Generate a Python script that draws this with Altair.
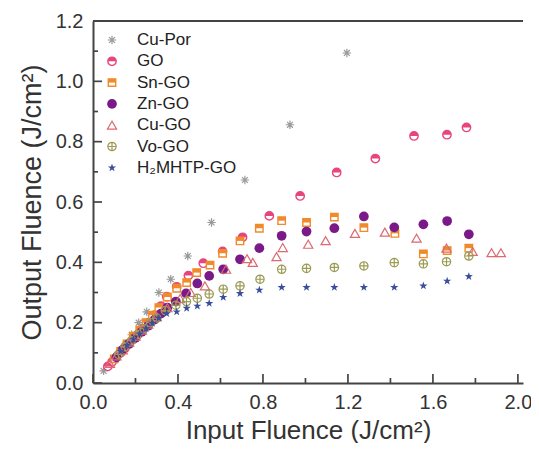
import altair as alt
import pandas as pd

# ---------------- data ----------------
series_names = ["Cu-Por", "GO", "Sn-GO", "Zn-GO", "Cu-GO", "Vo-GO", "H\u2082MHTP-GO"]

cupor_x = [0.05, 0.07, 0.09, 0.11, 0.13, 0.155, 0.182, 0.215, 0.253, 0.31, 0.366, 0.446, 0.558, 0.715, 0.927, 1.195]
cupor_y = [0.04, 0.055, 0.072, 0.09, 0.107, 0.13, 0.16, 0.2, 0.236, 0.30, 0.344, 0.421, 0.532, 0.673, 0.856, 1.094]

go_x = [0.07, 0.09, 0.11, 0.13, 0.15, 0.17, 0.19, 0.21, 0.235, 0.26, 0.29, 0.32, 0.347, 0.394, 0.449, 0.519,
        0.61, 0.704, 0.83, 0.975, 1.147, 1.329, 1.511, 1.666, 1.758]
go_y = [0.055, 0.07, 0.085, 0.1, 0.115, 0.13, 0.145, 0.16, 0.18, 0.2, 0.225, 0.255, 0.286, 0.319, 0.356, 0.397,
        0.436, 0.483, 0.554, 0.620, 0.698, 0.744, 0.819, 0.823, 0.847]

sn_x = [0.10, 0.13, 0.16, 0.19, 0.22, 0.25, 0.28, 0.31, 0.35, 0.394, 0.441, 0.488, 0.551, 0.61, 0.692, 0.783,
        0.888, 1.005, 1.136, 1.275, 1.421, 1.555, 1.667, 1.769]
sn_y = [0.08, 0.105, 0.13, 0.155, 0.175, 0.2, 0.225, 0.25, 0.285, 0.314, 0.333, 0.366, 0.391, 0.43, 0.471, 0.513,
        0.538, 0.532, 0.55, 0.515, 0.496, 0.428, 0.439, 0.447]

zn_x = [0.11, 0.14, 0.17, 0.2, 0.23, 0.26, 0.29, 0.32, 0.35, 0.39, 0.438, 0.491, 0.547, 0.613, 0.692, 0.783,
        0.888, 1.005, 1.136, 1.275, 1.418, 1.555, 1.667, 1.769]
zn_y = [0.085, 0.11, 0.13, 0.15, 0.17, 0.19, 0.21, 0.23, 0.25, 0.27, 0.297, 0.33, 0.355, 0.377, 0.41, 0.447,
        0.488, 0.502, 0.513, 0.552, 0.516, 0.526, 0.537, 0.493]

cu_x = [0.08, 0.11, 0.14, 0.17, 0.2, 0.23, 0.26, 0.3, 0.35, 0.41, 0.46, 0.527, 0.626, 0.725, 0.752, 0.864,
        0.893, 1.013, 1.095, 1.233, 1.374, 1.523, 1.664, 1.787, 1.876, 1.92]
cu_y = [0.065, 0.09, 0.11, 0.135, 0.155, 0.175, 0.195, 0.22, 0.25, 0.28, 0.3, 0.322, 0.377, 0.412, 0.400, 0.419,
        0.449, 0.46, 0.472, 0.496, 0.5, 0.48, 0.447, 0.436, 0.432, 0.432]

vo_x = [0.12, 0.15, 0.18, 0.21, 0.24, 0.27, 0.3, 0.34, 0.39, 0.44, 0.491, 0.547, 0.613, 0.692, 0.786, 0.888,
        1.005, 1.136, 1.275, 1.418, 1.555, 1.664, 1.769]
vo_y = [0.095, 0.12, 0.14, 0.16, 0.18, 0.2, 0.215, 0.24, 0.258, 0.27, 0.281, 0.295, 0.311, 0.322, 0.344, 0.377,
        0.38, 0.383, 0.388, 0.399, 0.395, 0.402, 0.421]

h2_x = [0.13, 0.16, 0.19, 0.22, 0.25, 0.28, 0.31, 0.347, 0.394, 0.441, 0.491, 0.547, 0.613, 0.692, 0.783, 0.888,
        1.005, 1.136, 1.275, 1.418, 1.555, 1.667, 1.769]
h2_y = [0.105, 0.125, 0.145, 0.163, 0.18, 0.198, 0.215, 0.23, 0.236, 0.248, 0.255, 0.264, 0.284, 0.297, 0.308, 0.317,
        0.317, 0.317, 0.317, 0.317, 0.322, 0.338, 0.353]

x_major = [0.0, 0.4, 0.8, 1.2, 1.6, 2.0]
x_minor = [0.2, 0.6, 1.0, 1.4, 1.8]
y_major = [0.0, 0.2, 0.4, 0.6, 0.8, 1.0, 1.2]
y_minor = [0.1, 0.3, 0.5, 0.7, 0.9, 1.1]

# ---------------- styling ----------------
W, H = 430, 362
FONT = "Liberation Sans"
X_DOMAIN = [0, 2.024]
Y_DOMAIN = [0, 1.2]

ASTERISK = "M-1,0L1,0M0,-1L0,1M-0.7,-0.7L0.7,0.7M-0.7,0.7L0.7,-0.7"
STAR = ("M0,-1L0.235,-0.324L0.951,-0.309L0.380,0.124L0.588,0.809L0,0.4L-0.588,0.809"
        "L-0.380,0.124L-0.951,-0.309L-0.235,-0.324Z")
CIRCLE_PLUS = "M-1,0A1,1 0 1,0 1,0A1,1 0 1,0 -1,0ZM-1,0L1,0M0,-1L0,1"
HALF_DISK_TOP = "M-1,0A1,1 0 0,1 1,0Z"
HALF_SQUARE_TOP = "M-1,-1L1,-1L1,0L-1,0Z"
TICK_UP = "M0,0L0,-2"
TICK_RIGHT = "M0,0L2,0"
TOP_LINE = f"M0,0L{W/100:.3f},0"

C_GRAY = "#9a9a9a"
C_PINK = "#e8457f"
C_ORANGE = "#f08a2a"
C_PURPLE = "#7a1a88"
C_ROSE = "#dc6a72"
C_OLIVE = "#9c9c55"
C_BLUE = "#3a4e9c"
C_AX = "#444444"

xscale = alt.Scale(domain=X_DOMAIN, nice=False, zero=False)
yscale = alt.Scale(domain=Y_DOMAIN, nice=False, zero=False)
xaxis = alt.Axis(values=x_major, format=".1f", ticks=False, grid=False, domain=True,
                 domainColor=C_AX, domainWidth=2, labelFlush=False, titleFontSize=26,
                 title="Input Fluence (J/cm\u00b2)", labelPadding=9, titlePadding=5)
yaxis = alt.Axis(values=y_major, format=".1f", ticks=False, grid=False, domain=True,
                 domainColor=C_AX, domainWidth=2, labelFlush=False, titleFontSize=27,
                 title="Output Fluence (J/cm\u00b2)", labelPadding=10, titlePadding=9)


def X(field="x"):
    return alt.X(f"{field}:Q", scale=xscale, axis=xaxis)


def Y(field="y"):
    return alt.Y(f"{field}:Q", scale=yscale, axis=yaxis)


def df(xs, ys):
    return pd.DataFrame({"x": xs, "y": ys})


def symbol_layers(data, key, enc):
    if key == "Cu-Por":
        return [alt.Chart(data).mark_point(shape=ASTERISK, size=70, stroke=C_GRAY, strokeWidth=1.2,
                                           filled=False, opacity=1).encode(**enc)]
    if key == "GO":
        return [alt.Chart(data).mark_point(shape="circle", size=70, fill="white", fillOpacity=1,
                                           stroke=C_PINK, strokeWidth=1.4, opacity=1).encode(**enc),
                alt.Chart(data).mark_point(shape=HALF_DISK_TOP, size=70, filled=True, color=C_PINK,
                                           opacity=1).encode(**enc)]
    if key == "Sn-GO":
        return [alt.Chart(data).mark_point(shape="square", size=55, fill="white", fillOpacity=1,
                                           stroke=C_ORANGE, strokeWidth=1.4, opacity=1).encode(**enc),
                alt.Chart(data).mark_point(shape=HALF_SQUARE_TOP, size=55, filled=True, color=C_ORANGE,
                                           opacity=1).encode(**enc)]
    if key == "Zn-GO":
        return [alt.Chart(data).mark_point(shape="circle", size=95, filled=True, color=C_PURPLE,
                                           opacity=1).encode(**enc)]
    if key == "Cu-GO":
        return [alt.Chart(data).mark_point(shape="triangle-up", size=85, filled=False, stroke=C_ROSE,
                                           strokeWidth=1.2, opacity=1).encode(**enc)]
    if key == "Vo-GO":
        return [alt.Chart(data).mark_point(shape=CIRCLE_PLUS, size=70, filled=False, stroke=C_OLIVE,
                                           strokeWidth=1.2, opacity=1).encode(**enc)]
    return [alt.Chart(data).mark_point(shape=STAR, size=75, filled=True, color=C_BLUE,
                                       opacity=1).encode(**enc)]


series_data = [
    ("Cu-Por", cupor_x, cupor_y),
    ("GO", go_x, go_y),
    ("Sn-GO", sn_x, sn_y),
    ("Zn-GO", zn_x, zn_y),
    ("Cu-GO", cu_x, cu_y),
    ("Vo-GO", vo_x, vo_y),
    ("H2", h2_x, h2_y),
]

one = pd.DataFrame({"a": [0]})
layers = []

# data series
for key, xs, ys in series_data:
    layers += symbol_layers(df(xs, ys), key, {"x": X(), "y": Y()})

# top frame line (stroked symbol, unit = 100 px)
layers.append(alt.Chart(one).mark_point(shape=TOP_LINE, size=40000, filled=False, stroke=C_AX,
                                        strokeWidth=2, opacity=1)
              .encode(x=alt.value(0), y=alt.value(0)))

# inward-pointing ticks, positioned through the axis scales
tick = dict(filled=False, stroke=C_AX, strokeWidth=1.7, opacity=1)
layers.append(alt.Chart(pd.DataFrame({"x": x_major})).mark_point(shape=TICK_UP, size=81, **tick)
              .encode(x=X(), y=alt.value(H)))
layers.append(alt.Chart(pd.DataFrame({"x": x_minor})).mark_point(shape=TICK_UP, size=25, **tick)
              .encode(x=X(), y=alt.value(H)))
layers.append(alt.Chart(pd.DataFrame({"y": y_major})).mark_point(shape=TICK_RIGHT, size=81, **tick)
              .encode(y=Y(), x=alt.value(0)))
layers.append(alt.Chart(pd.DataFrame({"y": y_minor})).mark_point(shape=TICK_RIGHT, size=25, **tick)
              .encode(y=Y(), x=alt.value(0)))

# legend (inside the plot, top-left)
LEG_X_SYM, LEG_X_TXT, LEG_Y0, LEG_DY = 19, 44, 19, 21.3
for i, (key, _, _) in enumerate(series_data):
    yy = LEG_Y0 + i * LEG_DY
    layers += symbol_layers(one, key, {"x": alt.value(LEG_X_SYM), "y": alt.value(yy)})
    layers.append(alt.Chart(one).mark_text(align="left", baseline="middle", font=FONT, fontSize=17,
                                           color="#222222")
                  .encode(x=alt.value(LEG_X_TXT), y=alt.value(yy), text=alt.value(series_names[i])))

chart = alt.layer(*layers).properties(
    width=W, height=H,
    autosize=alt.AutoSizeParams(type="none"),
    padding={"left": 85, "top": 13, "right": 8, "bottom": 60},
).configure_view(strokeWidth=0).configure_axis(
    labelFont=FONT, titleFont=FONT,
    labelFontSize=20, labelColor="#333333", titleColor="#333333",
    titleFontWeight="normal",
)

chart.save("out.html", embed_options={"renderer": "svg", "actions": False})
